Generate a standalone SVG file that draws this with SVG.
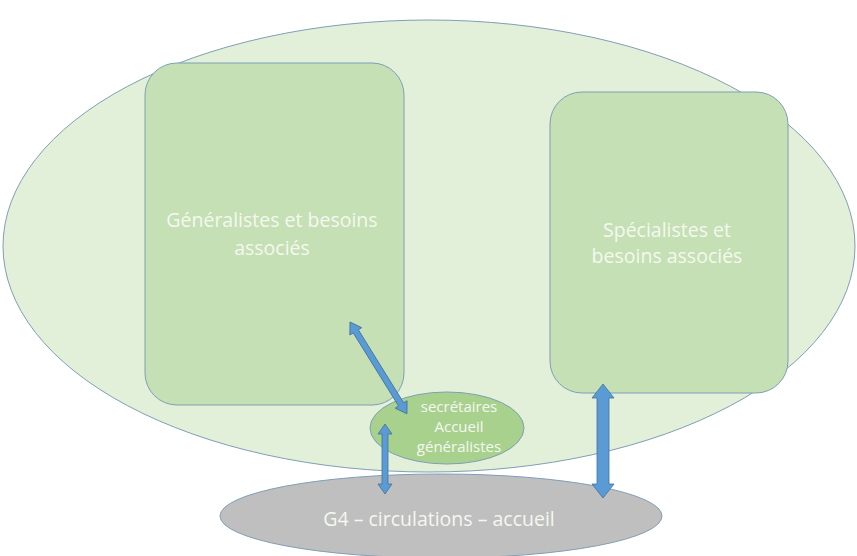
<svg xmlns="http://www.w3.org/2000/svg" width="857" height="556" viewBox="0 0 857 556">
  <defs>
    <style>
      .zone { fill: #e2efd9; stroke: #7f9fb6; stroke-width: 1; }
      .box { fill: #c5e0b4; stroke: #7f9fb6; stroke-width: 1; }
      .desk { fill: #a9d18e; stroke: #7f9fb6; stroke-width: 1; }
      .hall { fill: #bfbfbf; stroke: #7f9fb6; stroke-width: 1; }
      .arrow { fill: #5b9bd5; stroke: #41719c; stroke-width: 0.8; }
      .label { font-family: "Open Sans", "Liberation Sans", sans-serif; fill: #f4f8f0; text-anchor: middle; }
    </style>
  </defs>

  <!-- outer site zone -->
  <g id="site">
    <ellipse class="zone" cx="429" cy="246" rx="426" ry="226"/>
  </g>

  <!-- circulation / reception -->
  <g id="g4">
    <ellipse class="hall" cx="441" cy="516" rx="221" ry="42"/>
    <text class="label" x="439" y="526" font-size="19.5">G4 – circulations – accueil</text>
  </g>

  <g id="generalistes">
    <rect class="box" x="145" y="63" width="259" height="342" rx="32"/>
    <text class="label" x="272" y="227" font-size="19.5">Généralistes et besoins</text>
    <text class="label" x="272" y="255" font-size="19.5">associés</text>
  </g>

  <g id="specialistes">
    <rect class="box" x="550" y="92" width="238" height="301" rx="32"/>
    <text class="label" x="667" y="237" font-size="19.5">Spécialistes et</text>
    <text class="label" x="667" y="263" font-size="19.5">besoins associés</text>
  </g>

  <g id="secretaires">
    <ellipse class="desk" cx="447" cy="428" rx="77" ry="36"/>
    <text class="label" x="459" y="412" font-size="15">secrétaires</text>
    <text class="label" x="459" y="432" font-size="15">Accueil</text>
    <text class="label" x="459" y="452" font-size="15">généralistes</text>
  </g>

  <!-- double-headed block arrows -->
  <g id="connectors">
    <!-- generalistes <-> secretaires -->
    <path class="arrow" transform="translate(350,322) rotate(58.2)"
          d="M0,0 L11,-7 L11,-3 L97,-3 L97,-7 L108,0 L97,7 L97,3 L11,3 L11,7 Z"/>
    <!-- secretaires <-> G4 -->
    <path class="arrow" transform="translate(385,424) rotate(90)"
          d="M0,0 L10,-7 L10,-3 L60,-3 L60,-7 L70,0 L60,7 L60,3 L10,3 L10,7 Z"/>
    <!-- specialistes <-> G4 -->
    <path class="arrow" transform="translate(603,384) rotate(90)"
          d="M0,0 L14,-11 L14,-6 L100,-6 L100,-11 L114,0 L100,11 L100,6 L14,6 L14,11 Z"/>
  </g>
</svg>
